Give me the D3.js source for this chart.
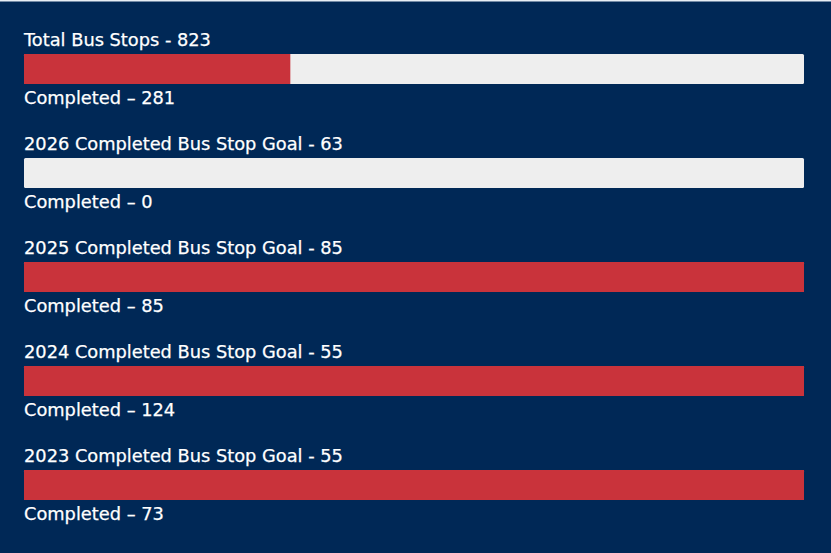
<!DOCTYPE html>
<html><head><meta charset="utf-8">
<script src="https://cdn.jsdelivr.net/npm/d3@7"></script>
<style>
html,body{margin:0;padding:0;background:#002856;}
svg{display:block;}
</style></head>
<body>
<svg id="chart" width="831" height="553"></svg>
<script>
const titles = ["Total Bus Stops", "2026 Completed Bus Stop Goal", "2025 Completed Bus Stop Goal", "2024 Completed Bus Stop Goal", "2023 Completed Bus Stop Goal"];
const goals = [823, 63, 85, 55, 55];
const completed = [281, 0, 85, 124, 73];

const W = 831, H = 553;
const svg = d3.select("#chart");
svg.append("rect").attr("width", W).attr("height", H).attr("fill", "#002856");
svg.append("rect").attr("width", W).attr("height", 1.5).attr("fill", "#e8eef5");

const rows = d3.range(titles.length);
const y = d3.scaleBand().domain(rows).range([0, 520]).paddingInner(0).paddingOuter(0);
const left = 24, right = 804;
const font = "'DejaVu Sans', sans-serif";
const fs = 17.8;

rows.forEach(i => {
  const x = d3.scaleLinear().domain([0, goals[i]]).range([left, right]).clamp(true);
  const g = svg.append("g").attr("transform", `translate(0,${y(i)})`);
  g.append("text").attr("x", left).attr("y", 46)
    .attr("fill", "#ffffff").attr("font-family", font).attr("font-size", fs)
    .attr("stroke", "#ffffff").attr("stroke-width", 0.25)
    .text(`${titles[i]} - ${goals[i]}`);
  g.append("rect").attr("x", x(0)).attr("y", 54).attr("width", x(goals[i]) - x(0)).attr("height", 30)
    .attr("fill", "#eeeeee").attr("rx", 1.5);
  if (completed[i] > 0) {
    g.append("rect").attr("x", x(0)).attr("y", 54).attr("width", x(completed[i]) - x(0)).attr("height", 30)
      .attr("fill", "#c9333b");
  }
  g.append("text").attr("x", left).attr("y", 104)
    .attr("fill", "#ffffff").attr("font-family", font).attr("font-size", fs)
    .attr("stroke", "#ffffff").attr("stroke-width", 0.25)
    .text(`Completed – ${completed[i]}`);
});
</script>
</body></html>
